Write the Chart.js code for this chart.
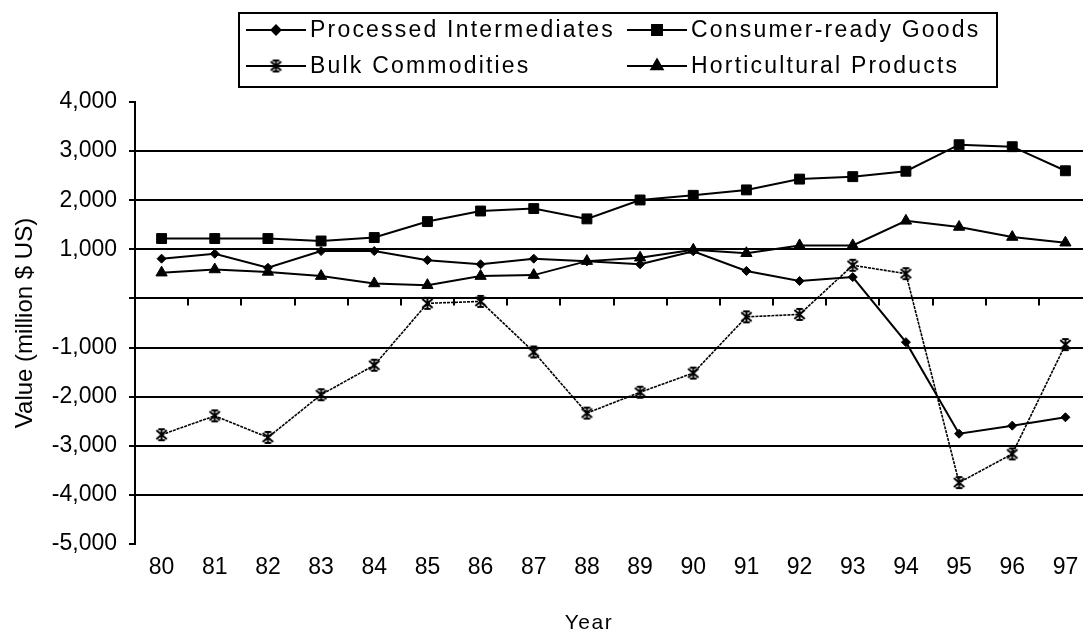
<!DOCTYPE html>
<html>
<head>
<meta charset="utf-8">
<script src="https://cdn.jsdelivr.net/npm/chart.js@4.4.0/dist/chart.umd.min.js"></script>
<style>
    html, body { margin: 0; padding: 0; background: #fff; overflow: hidden; }
    #wrap { width: 1100px; height: 633px; }
</style>
</head>
<body>
<div id="wrap"><canvas id="tradeChart" width="1100" height="633"></canvas></div>
<script>
const years = ["80", "81", "82", "83", "84", "85", "86", "87", "88", "89", "90", "91", "92", "93", "94", "95", "96", "97"];

const processedIntermediates = [810, 910, 625, 965, 965, 780, 695, 810, 755, 695, 960, 560, 355, 435, -890, -2755, -2590, -2420];
const consumerReadyGoods = [1220, 1220, 1220, 1170, 1240, 1565, 1780, 1830, 1620, 2005, 2100, 2210, 2430, 2480, 2590, 3130, 3090, 2600];
const bulkCommodities = [-2775, -2390, -2830, -1960, -1360, -100, -60, -1090, -2335, -1910, -1520, -375, -325, 675, 505, -3750, -3165, -940];
const horticulturalProducts = [525, 590, 540, 455, 305, 270, 455, 475, 760, 830, 990, 920, 1080, 1080, 1580, 1455, 1250, 1135];

const yTicks = { min: -5000, max: 4000, step: 1000 };
const xTitle = "Year";

const fontFamily = '"Liberation Sans", Arial, sans-serif';
Chart.defaults.font.family = fontFamily;
Chart.defaults.color = "#000";

// excel style asterisk marker: x plus a vertical bar
function makeAsterisk(size) {
    const c = document.createElement("canvas");
    c.width = size;
    c.height = size;
    const g = c.getContext("2d");
    const m = size / 2, r = size / 2 - 1;
    g.strokeStyle = "#000";
    g.lineWidth = 2;
    g.beginPath();
    g.moveTo(m - r * 0.8, m - r * 0.7); g.lineTo(m + r * 0.8, m + r * 0.7);
    g.moveTo(m + r * 0.8, m - r * 0.7); g.lineTo(m - r * 0.8, m + r * 0.7);
    g.moveTo(m, m - r); g.lineTo(m, m + r);
    g.moveTo(m - r * 0.5, m - r + 1); g.lineTo(m + r * 0.5, m - r + 1);
    g.moveTo(m - r * 0.5, m + r - 1); g.lineTo(m + r * 0.5, m + r - 1);
    g.stroke();
    return c;
}
const asterisk = makeAsterisk(15);

// legend box drawn by hand (two columns, bordered) + the x title
const legendBox = {
    id: "legendBox",
    afterDraw(chart) {
        const ctx = chart.ctx;
        ctx.save();
        ctx.strokeStyle = "#000";
        ctx.fillStyle = "#000";
        ctx.lineWidth = 2;
        ctx.strokeRect(239, 13, 758, 74);
        ctx.font = "23px " + fontFamily;
        ctx.textBaseline = "middle";
        ctx.textAlign = "left";
        if ("letterSpacing" in ctx) ctx.letterSpacing = "2.2px";
        chart.data.datasets.forEach((ds, i) => {
            const x0 = i % 2 ? 627 : 246;
            const y = i < 2 ? 30 : 66;
            ctx.lineWidth = 2;
            ctx.setLineDash([]);
            ctx.beginPath();
            ctx.moveTo(x0, y);
            ctx.lineTo(x0 + 60, y);
            ctx.stroke();
            Chart.helpers.drawPoint(ctx, { pointStyle: ds.pointStyle, radius: ds.pointRadius, rotation: 0, borderWidth: 1 }, x0 + 30, y);
            ctx.fillText(ds.label, x0 + 64, y + 1);
        });

        ctx.font = "21px " + fontFamily;
        if ("letterSpacing" in ctx) ctx.letterSpacing = "1.5px";
        ctx.textAlign = "center";
        ctx.fillText(xTitle, 589, 623);
        ctx.restore();
    }
};

// small tick marks on the zero line, between categories
const xTickMarks = {
    id: "xTickMarks",
    beforeDatasetsDraw(chart) {
        const ctx = chart.ctx;
        const xs = chart.scales.x, ys = chart.scales.y;
        const y0 = ys.getPixelForValue(0);
        ctx.save();
        ctx.strokeStyle = "#000";
        ctx.lineWidth = 2;
        ctx.beginPath();
        for (let i = 1; i <= years.length; i++) {
            const x = Math.round(xs.getPixelForValue(i - 0.5));
            ctx.moveTo(x, y0);
            ctx.lineTo(x, y0 + 7);
        }
        ctx.stroke();
        ctx.restore();
    }
};

function series(label, data, pointStyle, radius, width, dash) {
    return {
        label: label,
        data: data,
        borderColor: "#000",
        backgroundColor: "#000",
        borderWidth: width,
        borderDash: dash,
        pointStyle: pointStyle,
        pointRadius: radius,
        pointBorderWidth: 1,
        pointBackgroundColor: "#000",
        pointBorderColor: "#000",
        tension: 0
    };
}

new Chart(document.getElementById("tradeChart").getContext("2d"), {
    type: "line",
    data: {
        labels: years,
        datasets: [
            series("Processed Intermediates", processedIntermediates, "rectRot", 4.5, 2, []),
            series("Consumer-ready Goods", consumerReadyGoods, "rect", 7, 2, []),
            series("Bulk Commodities", bulkCommodities, asterisk, 7, 1.6, [3, 1]),
            series("Horticultural Products", horticulturalProducts, "triangle", 6.5, 2, [])
        ]
    },
    options: {
        responsive: false,
        animation: false,
        layout: { padding: { top: 102, right: 2, left: 0, bottom: 0 } },
        plugins: {
            legend: { display: false },
            tooltip: { enabled: false }
        },
        scales: {
            x: {
                offset: true,
                grid: { display: false, drawTicks: false },
                border: { display: false },
                ticks: { font: { size: 23 }, padding: 10, autoSkip: false, maxRotation: 0 },
                afterFit(s) { s.height = 89; }
            },
            y: {
                min: yTicks.min,
                max: yTicks.max,
                ticks: {
                    stepSize: yTicks.step,
                    font: { size: 23 },
                    padding: 12,
                    callback: v => v === 0 ? "" : v.toLocaleString("en-US")
                },
                grid: {
                    color: c => (c.tick && (c.tick.value === yTicks.max || c.tick.value === yTicks.min)) ? "rgba(0,0,0,0)" : "#000",
                    lineWidth: 2,
                    tickLength: 6,
                    tickColor: "#000",
                    tickWidth: 2
                },
                border: { display: true, color: "#000", width: 2 },
                title: { display: true, text: "Value (million $ US)", font: { size: 24 }, padding: { top: 11, bottom: 0 } },
                afterFit(s) { s.width = 135; }
            }
        }
    },
    plugins: [xTickMarks, legendBox]
});
</script>
</body>
</html>
